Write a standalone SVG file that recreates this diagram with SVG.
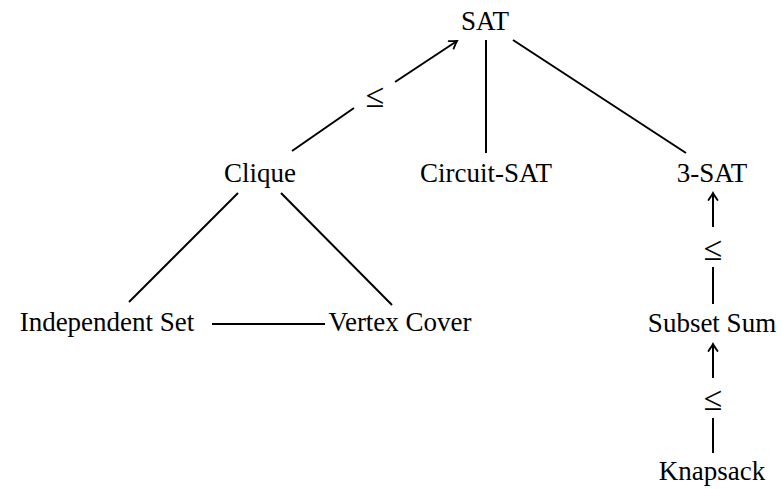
<svg xmlns="http://www.w3.org/2000/svg" width="783" height="489" viewBox="0 0 783 489">
<style>
text{font-family:'Liberation Serif','DejaVu Serif','Times New Roman',serif;font-size:27px;fill:#000;text-anchor:middle}
.le{font-size:34px}
.e{stroke:#000;stroke-width:2;fill:none}
</style>
<defs>
<marker id="ah" viewBox="-10 -6 12 12" refX="0" refY="0" markerWidth="12" markerHeight="12" markerUnits="userSpaceOnUse" orient="auto">
<path d="M-7,-4.5 Q-2,-1 0,0 Q-2,1 -7,4.5" stroke="#000" stroke-width="1.8" fill="none" stroke-linecap="round"/>
</marker>
</defs>
<rect width="783" height="489" fill="#fff"/>
<g id="connectors">
<path class="e" d="M292,151 L354,108"/>
<path class="e" d="M395,82 L457,41" marker-end="url(#ah)"/>
<text class="le" x="375" y="107" font-family="Liberation Serif, serif">≤</text>
<path class="e" d="M486,40 L486,153"/>
<path class="e" d="M513,40 L686,153"/>
<path class="e" d="M238,193 L129,302"/>
<path class="e" d="M281,193 L392,305"/>
<path class="e" d="M212,324 L325,324"/>
<path class="e" d="M713,304 L713,267"/>
<path class="e" d="M713,227 L713,193" marker-end="url(#ah)"/>
<text class="le" x="713" y="260" font-family="Liberation Serif, serif">≤</text>
<path class="e" d="M713,453 L713,418"/>
<path class="e" d="M713,378 L713,344" marker-end="url(#ah)"/>
<text class="le" x="713" y="410" font-family="Liberation Serif, serif">≤</text>
</g>
<g id="sat"><text x="485" y="30" font-family="Liberation Serif, serif">SAT</text></g>
<g id="clique"><text x="260" y="182" font-family="Liberation Serif, serif">Clique</text></g>
<g id="circuit-sat"><text x="486" y="182" font-family="Liberation Serif, serif">Circuit-SAT</text></g>
<g id="3-sat"><text x="712" y="182" font-family="Liberation Serif, serif">3-SAT</text></g>
<g id="independent-set"><text x="107" y="331" font-family="Liberation Serif, serif">Independent Set</text></g>
<g id="vertex-cover"><text x="400" y="331" font-family="Liberation Serif, serif">Vertex Cover</text></g>
<g id="subset-sum"><text x="712" y="332" font-family="Liberation Serif, serif">Subset Sum</text></g>
<g id="knapsack"><text x="712" y="480" font-family="Liberation Serif, serif">Knapsack</text></g>
</svg>
